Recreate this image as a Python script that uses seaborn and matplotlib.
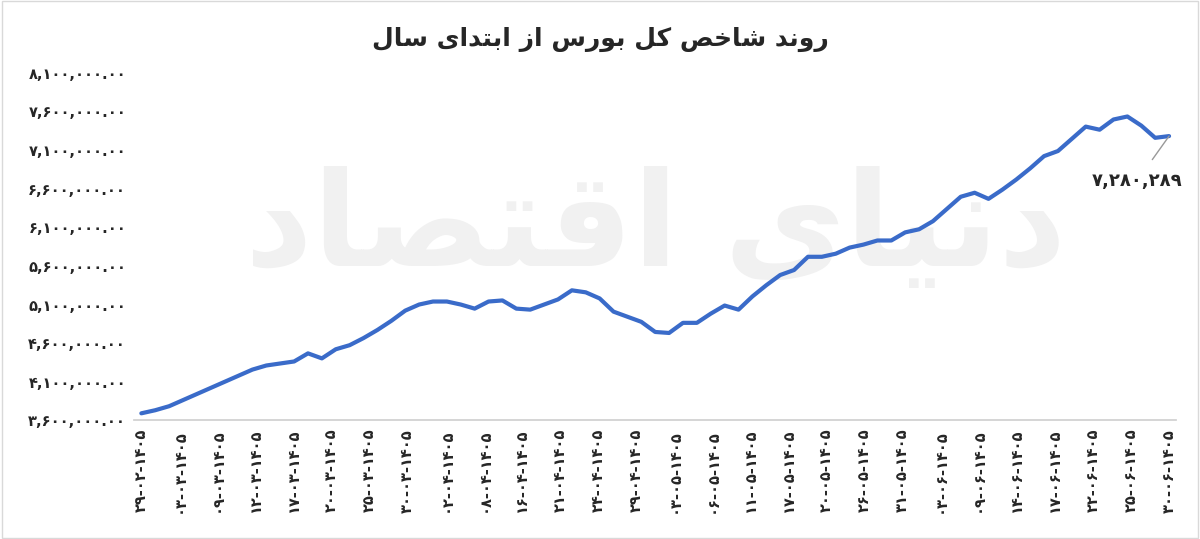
import numpy as np
import pandas as pd
import matplotlib
matplotlib.use("Agg")
import matplotlib.pyplot as plt
import seaborn as sns

title = "روند شاخص کل بورس از ابتدای سال"
watermark = "دنیای اقتصاد"
date_labels = ["29-02", "03-03", "09-03", "12-03", "17-03", "20-03", "25-03", "30-03",
               "02-04", "08-04", "16-04", "21-04", "24-04", "29-04", "03-05", "06-05",
               "11-05", "17-05", "20-05", "26-05", "31-05", "03-06", "09-06", "14-06",
               "17-06", "22-06", "25-06", "30-06"]
index_values = [3692, 3732, 3784, 3863, 3942, 4021, 4100, 4179, 4258, 4311, 4337, 4363,
                4468, 4403, 4521, 4574, 4666, 4771, 4889, 5021, 5100, 5139, 5139, 5100,
                5047, 5139, 5153, 5047, 5034, 5100, 5166, 5284, 5258, 5179, 5008, 4942,
                4876, 4745, 4732, 4863, 4863, 4982, 5087, 5034, 5205, 5350, 5482, 5547,
                5718, 5718, 5758, 5837, 5876, 5929, 5929, 6034, 6074, 6179, 6337, 6495,
                6547, 6468, 6587, 6718, 6863, 7021, 7087, 7245, 7403, 7363, 7495, 7534,
                7416, 7258, 7280.289]
y_ticks = [3600000 + 500000 * i for i in range(10)]
last_label = "7,280,289"

FA = str.maketrans("0123456789", "۰۱۲۳۴۵۶۷۸۹")

FORMS = {  # isolated, final, initial, medial
    'ا': (0xFE8D, 0xFE8E, None, None), 'ب': (0xFE8F, 0xFE90, 0xFE91, 0xFE92),
    'ت': (0xFE95, 0xFE96, 0xFE97, 0xFE98), 'خ': (0xFEA5, 0xFEA6, 0xFEA7, 0xFEA8),
    'د': (0xFEA9, 0xFEAA, None, None), 'ر': (0xFEAD, 0xFEAE, None, None),
    'ز': (0xFEAF, 0xFEB0, None, None), 'س': (0xFEB1, 0xFEB2, 0xFEB3, 0xFEB4),
    'ش': (0xFEB5, 0xFEB6, 0xFEB7, 0xFEB8), 'ص': (0xFEB9, 0xFEBA, 0xFEBB, 0xFEBC),
    'ل': (0xFEDD, 0xFEDE, 0xFEDF, 0xFEE0), 'ن': (0xFEE5, 0xFEE6, 0xFEE7, 0xFEE8),
    'و': (0xFEED, 0xFEEE, None, None), 'ک': (0xFB8E, 0xFB8F, 0xFB90, 0xFB91),
    'ی': (0xFBFC, 0xFBFD, 0xFBFE, 0xFBFF), 'ق': (0xFED5, 0xFED6, 0xFED7, 0xFED8),
}

def shape(s):
    out = []
    for i, c in enumerate(s):
        if c not in FORMS:
            out.append(c); continue
        prev = s[i-1] if i > 0 else ' '
        nxt = s[i+1] if i < len(s)-1 else ' '
        jp = prev in FORMS and FORMS[prev][2] is not None
        jn = nxt in FORMS and FORMS[c][2] is not None
        f = FORMS[c]
        if jp and jn: code = f[3]
        elif jp: code = f[1]
        elif jn: code = f[2]
        else: code = f[0]
        out.append(chr(code))
    return "".join(out)[::-1]

sns.set_theme(style="white")
plt.rcParams['font.family'] = ['DejaVu Sans']

df = pd.DataFrame({"i": np.arange(len(index_values)),
                   "v": np.array(index_values) * 1000})

fig = plt.figure(figsize=(12, 5.39), dpi=100)
ax = fig.add_axes([0.112, 0.22, 0.868, 0.645])
ax.text(0.5, 0.55, shape(watermark), transform=ax.transAxes, fontsize=95,
        color="#f1f1f1", ha="center", va="center", fontweight="bold", zorder=0)
sns.lineplot(data=df, x="i", y="v", ax=ax, color="#3a6bc9", linewidth=3, zorder=3)
ax.set_ylim(3600000, 8100000)
ax.set_xlim(-0.5, len(index_values) - 0.5)
ax.set_yticks(y_ticks)
ax.set_yticklabels([f"{t:,.2f}".translate(FA) for t in y_ticks],
                   fontsize=10.5, fontweight="bold")
ax.set_xticks(np.linspace(0, len(index_values) - 1, len(date_labels)))
ax.set_xticklabels([(d + "-1405").translate(FA) for d in date_labels],
                   rotation=90, fontsize=10.5, fontweight="bold")
ax.set_xlabel(""); ax.set_ylabel("")
for s in ["top", "right", "left"]:
    ax.spines[s].set_visible(False)
ax.spines["bottom"].set_color("#d0d0d0")
ax.tick_params(length=0, pad=6)

n = len(index_values) - 1
ax.annotate(last_label.translate(FA), xy=(n, df.v.iloc[-1]),
            xytext=(n - 2.3, 6700000), ha="center", va="center",
            fontsize=13, fontweight="bold",
            arrowprops=dict(arrowstyle="-", color="#999999", lw=1,
                            shrinkA=8, shrinkB=0))

fig.suptitle(shape(title), y=0.95, fontsize=18, fontweight="bold")
fig.patches.append(plt.Rectangle((0.002, 0.002), 0.996, 0.996, transform=fig.transFigure,
                                 fill=False, edgecolor="#d9d9d9", lw=1))
fig.savefig("out.png", dpi=100, facecolor="white")
